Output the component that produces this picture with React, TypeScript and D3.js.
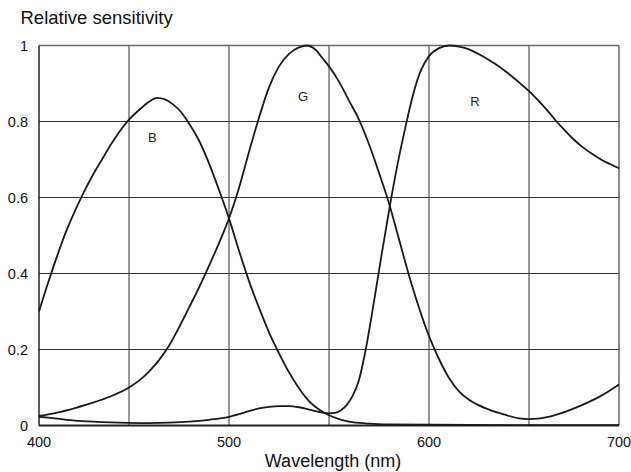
import React from "react";
import * as d3 from "d3";

// wavelength (nm), relative sensitivity
const blue: [number, number][] = [
  [400, 0.3], [405, 0.375], [410, 0.445], [415, 0.51], [420, 0.565], [425, 0.615],
  [430, 0.66], [435, 0.7], [440, 0.74], [445, 0.775], [450, 0.805], [455, 0.83],
  [460, 0.852], [464, 0.862], [468, 0.858], [472, 0.845], [476, 0.825], [480, 0.795],
  [485, 0.75], [490, 0.69], [495, 0.62], [500, 0.545], [505, 0.46], [510, 0.38],
  [515, 0.31], [520, 0.245], [525, 0.19], [530, 0.14], [535, 0.098], [540, 0.064],
  [545, 0.042], [550, 0.027], [555, 0.017], [560, 0.01], [570, 0.005], [580, 0.003],
  [600, 0.002], [650, 0.001], [700, 0.001],
];

const green: [number, number][] = [
  [400, 0.025], [410, 0.034], [420, 0.046], [430, 0.06], [440, 0.077], [450, 0.1],
  [455, 0.118], [460, 0.142], [465, 0.172], [470, 0.21], [475, 0.258], [480, 0.31],
  [485, 0.363], [490, 0.42], [495, 0.48], [500, 0.545], [505, 0.625], [510, 0.72],
  [515, 0.81], [520, 0.89], [525, 0.945], [530, 0.978], [535, 0.995], [539, 1.0],
  [543, 0.99], [547, 0.965], [550, 0.945], [555, 0.905], [560, 0.855], [565, 0.805],
  [570, 0.74], [575, 0.665], [580, 0.585], [585, 0.49], [590, 0.395], [595, 0.31],
  [600, 0.235], [605, 0.175], [610, 0.125], [615, 0.09], [620, 0.068], [625, 0.053],
  [630, 0.042], [635, 0.033], [640, 0.025], [645, 0.019], [650, 0.017], [655, 0.018],
  [660, 0.022], [670, 0.036], [680, 0.055], [690, 0.078], [700, 0.108],
];

const red: [number, number][] = [
  [400, 0.023], [410, 0.018], [420, 0.013], [430, 0.01], [440, 0.008], [450, 0.007],
  [460, 0.0065], [470, 0.0075], [480, 0.01], [490, 0.015], [500, 0.023], [505, 0.03],
  [510, 0.038], [515, 0.045], [520, 0.049], [525, 0.051], [530, 0.051], [535, 0.048],
  [540, 0.042], [545, 0.036], [550, 0.032], [553, 0.033], [556, 0.04], [559, 0.055],
  [562, 0.08], [565, 0.12], [568, 0.19], [572, 0.31], [576, 0.44], [580, 0.565],
  [584, 0.68], [588, 0.78], [592, 0.87], [596, 0.935], [600, 0.972], [605, 0.993],
  [610, 1.0], [615, 0.997], [620, 0.99], [625, 0.977], [630, 0.962], [635, 0.945],
  [640, 0.925], [645, 0.903], [650, 0.88], [655, 0.856], [660, 0.83], [665, 0.802],
  [670, 0.776], [675, 0.752], [680, 0.732], [685, 0.715], [690, 0.7], [695, 0.688],
  [700, 0.677],
];

const seriesLabels = [
  { name: "B", x: 461.7, y: 0.746 },
  { name: "G", x: 537, y: 0.854 },
  { name: "R", x: 623, y: 0.841 },
];

const xTicks = [400, 500, 600, 700];
const xGrid = [450, 500, 550, 600, 650];
const yTicks = [0, 0.2, 0.4, 0.6, 0.8, 1];
const yTickLabels = ["0", "0.2", "0.4", "0.6", "0.8", "1"];

const font = "'Liberation Sans', Arial, Helvetica, sans-serif";

export default function App() {
  const width = 631;
  const height = 472;

  // the printed frame is narrower than the inner grid spacing
  const x = d3.scaleLinear().domain([400, 450, 650, 700]).range([39, 129, 529, 619]);
  const y = d3.scaleLinear().domain([0, 1]).range([425.5, 45.5]);

  const line = d3
    .line<[number, number]>()
    .x((d) => x(d[0]))
    .y((d) => y(d[1]))
    .curve(d3.curveMonotoneX);

  const [x0, x1] = [x(400), x(700)];
  const [yb, yt] = [y(0), y(1)];

  return (
    <svg
      width={width}
      height={height}
      style={{ position: "absolute", left: 0, top: 0, background: "#fff" }}
      fontFamily={font}
    >
      <text x={20.5} y={23.5} fontSize={18.5} fill="#111">
        Relative sensitivity
      </text>

      {/* grid */}
      {xGrid.map((v) => (
        <line key={"gx" + v} x1={x(v)} x2={x(v)} y1={yt} y2={yb} stroke="#333" strokeWidth={1} />
      ))}
      {yTicks.slice(1, -1).map((v) => (
        <line key={"gy" + v} x1={x0} x2={x1} y1={y(v)} y2={y(v)} stroke="#333" strokeWidth={1} />
      ))}

      {/* frame */}
      <line x1={x0} x2={x1} y1={yt} y2={yt} stroke="#666" strokeWidth={1.5} />
      <line x1={x1} x2={x1} y1={yt} y2={yb} stroke="#666" strokeWidth={1.5} />
      <line x1={x0} x2={x0} y1={yt} y2={yb} stroke="#222" strokeWidth={1.5} />
      <line x1={x0} x2={x1} y1={yb} y2={yb} stroke="#222" strokeWidth={1.8} />

      {/* curves */}
      {[blue, green, red].map((s, i) => (
        <path key={i} d={line(s) || ""} fill="none" stroke="#1a1a1a" strokeWidth={1.8} />
      ))}

      {seriesLabels.map((l) => (
        <text key={l.name} x={x(l.x)} y={y(l.y)} fontSize={13} textAnchor="middle" fill="#222">
          {l.name}
        </text>
      ))}

      {/* axes labels */}
      {yTicks.map((v, i) => (
        <text key={"yt" + v} x={28} y={y(v) + 5} fontSize={14.5} textAnchor="end" fill="#111">
          {yTickLabels[i]}
        </text>
      ))}
      {xTicks.map((v) => (
        <text key={"xt" + v} x={x(v)} y={446.5} fontSize={14.5} textAnchor="middle" fill="#111">
          {v}
        </text>
      ))}
      <text x={333} y={467} fontSize={18} textAnchor="middle" fill="#111">
        Wavelength (nm)
      </text>
    </svg>
  );
}
